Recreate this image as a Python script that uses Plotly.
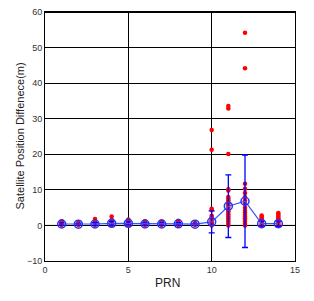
import plotly.graph_objects as go

prn = list(range(1, 15))
samples = {
    1: [0.1, 0.3, 0.5, 0.8, 1.2],
    2: [0.1, 0.3, 0.5, 0.8],
    3: [0.1, 0.3, 0.6, 1.0, 1.4, 1.8],
    4: [0.1, 0.3, 0.6, 1.0, 1.5, 2.5],
    5: [0.1, 0.4, 0.8, 1.3, 1.7],
    6: [0.1, 0.3, 0.6, 1.0, 1.2],
    7: [0.1, 0.3, 0.6, 0.9, 1.1],
    8: [0.1, 0.3, 0.6, 1.0, 1.3],
    9: [0.1, 0.3, 0.5, 0.7],
    10: [0.0, 0.3, 0.6, 1.0, 1.4, 1.8, 2.2, 2.7, 4.3, 4.7, 21.3, 26.8],
    11: [0.0, 0.5, 1.0, 1.5, 2.0, 2.5, 3.0, 3.5, 4.0, 4.5, 5.0, 5.5, 6.0, 6.5,
         7.0, 7.5, 8.0, 9.8, 10.2, 20.1, 32.9, 33.6],
    12: [0.0, 0.5, 1.0, 1.5, 2.0, 2.5, 3.0, 3.6, 4.1, 5.0, 6.0, 7.0, 8.0, 9.1,
         10.3, 11.7, 44.2, 54.2],
    13: [0.1, 0.4, 0.8, 1.2, 1.6, 2.0, 2.4, 2.8],
    14: [0.1, 0.4, 0.8, 1.2, 1.6, 2.0, 2.4, 2.8, 3.2, 3.5],
}
mean_vals = [0.4, 0.35, 0.4, 0.6, 0.6, 0.4, 0.4, 0.45, 0.35, 1.0, 5.4, 6.8, 0.5, 0.5]
std_vals = [0.3, 0.2, 0.4, 0.5, 0.4, 0.3, 0.3, 0.3, 0.2, 3.1, 8.8, 13.0, 0.7, 0.8]

xs, ys = [], []
for p in prn:
    for v in samples[p]:
        xs.append(p)
        ys.append(v)

FONT = "Liberation Sans, Arial"

fig = go.Figure()
fig.add_trace(go.Scatter(
    x=xs, y=ys, mode="markers",
    marker=dict(color="#ff0000", size=4.5),
    showlegend=False))
fig.add_trace(go.Scatter(
    x=prn, y=mean_vals, mode="lines+markers",
    line=dict(color="#3355ff", width=1.2),
    marker=dict(symbol="circle-open", size=8, color="#2233ff", line=dict(width=1.5)),
    error_y=dict(type="data", array=std_vals, color="#0000ff", thickness=1.3, width=3),
    showlegend=False))

axis_common = dict(
    showline=True, linecolor="black", linewidth=1, mirror=True,
    showgrid=True, gridcolor="black", gridwidth=1,
    zeroline=False, ticks="inside", ticklen=2, tickcolor="black",
    tickfont=dict(family=FONT, size=9, color="#333"),
    automargin=False,
)
fig.update_xaxes(range=[0, 15], dtick=5, tick0=0, **axis_common)
fig.update_yaxes(range=[-10, 60], dtick=10, tick0=0, **axis_common)
fig.add_shape(type="line", xref="paper", yref="y", x0=0, x1=1, y0=0, y1=0,
              line=dict(color="black", width=1), layer="below")
fig.add_shape(type="line", xref="paper", yref="paper", x0=0, x1=1, y0=1, y1=1,
              line=dict(color="black", width=2))

fig.add_annotation(text="PRN", xref="paper", yref="paper", x=0.49, y=-0.088,
                   yanchor="middle", showarrow=False,
                   font=dict(family=FONT, size=12, color="#222"))
fig.add_annotation(text="Satellite Position Diffenece(m)", xref="paper", yref="paper",
                   x=-0.104, y=0.5, xanchor="center", yanchor="middle", textangle=-90,
                   showarrow=False, font=dict(family=FONT, size=11, color="#222"))

fig.update_layout(
    width=314, height=301,
    margin=dict(l=45, r=19, t=12, b=40, autoexpand=False),
    plot_bgcolor="white", paper_bgcolor="white",
)
fig.write_html("out.html", config={"displayModeBar": False},
               post_script="document.body.style.margin='0';document.body.style.overflow='hidden';")
